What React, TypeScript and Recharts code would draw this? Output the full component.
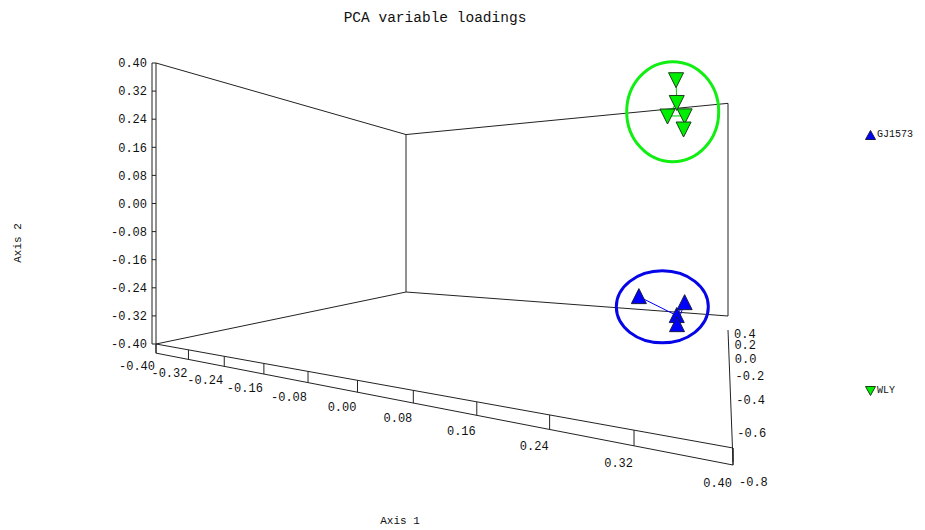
import React from "react";
import { ScatterChart, Scatter, XAxis, YAxis } from "recharts";

const CHART_W = 925;
const CHART_H = 530;

// tick values of the three axes
const axis1Ticks = [-0.4, -0.32, -0.24, -0.16, -0.08, 0, 0.08, 0.16, 0.24, 0.32, 0.4];
const axis2Ticks = [-0.4, -0.32, -0.24, -0.16, -0.08, 0, 0.08, 0.16, 0.24, 0.32, 0.4];
const axis3Ticks = [0.4, 0.2, 0, -0.2, -0.4, -0.6, -0.8];

// loadings of GJ1573 (axis 1, 2, 3)
const gjAxis1 = [0.294, 0.338, 0.346, 0.341];
const gjAxis2 = [-0.229, -0.274, -0.248, -0.284];
const gjAxis3 = [-0.44, -0.4, -0.36, -0.46];

// loadings of WLY
const wlyAxis1 = [0.339, 0.338, 0.33, 0.346, 0.347];
const wlyAxis2 = [0.275, 0.232, 0.189, 0.207, 0.164];
const wlyAxis3 = [-0.44, -0.4, -0.46, -0.36, -0.42];

const BLUE = "#0000ff";
const GREEN = "#00ee00";

// box extent, z runs front -> back
const X_RANGE = [-0.4, 0.4];
const Y_RANGE = [-0.4, 0.4];
const Z_RANGE = [-0.8, 0.4];

// camera: where the floor of the box lands on screen (front-left, front-right, back-right, back-left)
const FLOOR = [
  [156, 344],
  [733, 448],
  [728, 316],
  [406, 292],
];
const WALL = 281; // height of the box at the front-left edge
const RIB = 0.026; // thickness of the axis-1 plate

function makeHomography(q: number[][]) {
  const [[x0, y0], [x1, y1], [x2, y2], [x3, y3]] = q;
  const dx1 = x1 - x2, dx2 = x3 - x2, dx3 = x0 - x1 + x2 - x3;
  const dy1 = y1 - y2, dy2 = y3 - y2, dy3 = y0 - y1 + y2 - y3;
  const den = dx1 * dy2 - dx2 * dy1;
  const g = (dx3 * dy2 - dx2 * dy3) / den;
  const h = (dx1 * dy3 - dx3 * dy1) / den;
  return {
    a: x1 - x0 + g * x1,
    b: x3 - x0 + h * x3,
    c: x0,
    d: y1 - y0 + g * y1,
    e: y3 - y0 + h * y3,
    f: y0,
    g,
    h,
  };
}
const HM = makeHomography(FLOOR);

function project(a1: number, a2: number, a3: number) {
  const u = (a1 - X_RANGE[0]) / (X_RANGE[1] - X_RANGE[0]);
  const v = (a2 - Y_RANGE[0]) / (Y_RANGE[1] - Y_RANGE[0]);
  const s = (a3 - Z_RANGE[0]) / (Z_RANGE[1] - Z_RANGE[0]);
  const w = HM.g * u + HM.h * s + 1;
  return {
    px: (HM.a * u + HM.b * s + HM.c) / w,
    py: (HM.d * u + HM.e * s + HM.f) / w - (WALL * v) / w,
    w,
  };
}

const [x0, x1] = X_RANGE;
const [y0, y1] = Y_RANGE;
const [zf, zb] = Z_RANGE;

// box frame
const frame = [
  project(x0, y1, zf),
  project(x0, y1, zb),
  project(x1, y1, zb),
  project(x1, y0, zb),
  project(x0, y0, zb),
  project(x0, y0, zf),
];
const backLeft = [project(x0, y1, zb), project(x0, y0, zb)];
const frontLeft = [project(x0, y1, zf), project(x0, y0, zf)];
const frontLeftOuter = frontLeft.map((p) => ({ ...p, px: p.px - 4 }));
const ribbon = [
  project(x0, y0, zf),
  project(x1, y0, zf),
  project(x1, y0 - RIB, zf),
  project(x0, y0 - RIB, zf),
  project(x0, y0, zf),
];
const zLine = [project(x1, y0, zb), project(x1, y0, zf)].map((p) => ({ ...p, py: p.py + 14 }));

const axis1Marks = axis1Ticks.map((t) => {
  const top = project(t, y0, zf);
  const bottom = project(t, y0 - RIB, zf);
  return { ...top, len: bottom.py - top.py };
});
const axis2Marks = axis2Ticks.map((t) => project(x0, t, zf));

const axis1Labels = axis1Ticks.map((t) => {
  const p = project(t, y0, zf);
  return { px: p.px - 1, py: p.py + 7 + 15 / p.w, text: t.toFixed(2) };
});
const axis2Labels = axis2Ticks.map((t) => {
  const p = project(x0, t, zf);
  return { px: p.px - 9, py: p.py, text: t.toFixed(2) };
});
const axis3Labels = axis3Ticks.map((t) => {
  const p = project(x1, y0, t);
  return { px: p.px + 6, py: p.py + 6 + 15 / p.w, text: t.toFixed(1) };
});

const gjPoints = gjAxis1.map((a, i) => project(a, gjAxis2[i], gjAxis3[i]));
const wlyPoints = wlyAxis1.map((a, i) => project(a, wlyAxis2[i], wlyAxis3[i]));

const centroid = (pts: { px: number; py: number }[]) => [
  {
    px: pts.reduce((s, p) => s + p.px, 0) / pts.length,
    py: pts.reduce((s, p) => s + p.py, 0) / pts.length,
  },
];

const noShape = () => <g />;

const upTriangle = (props: any) => {
  const { cx, cy } = props;
  if (cx == null || cy == null) return <g />;
  return (
    <polygon
      points={`${cx},${cy - 8} ${cx - 7.5},${cy + 7} ${cx + 7.5},${cy + 7}`}
      fill={BLUE}
      stroke="#1a1a40"
      strokeWidth={1}
    />
  );
};

const downTriangle = (props: any) => {
  const { cx, cy } = props;
  if (cx == null || cy == null) return <g />;
  return (
    <polygon
      points={`${cx - 7.5},${cy - 7} ${cx + 7.5},${cy - 7} ${cx},${cy + 8}`}
      fill={GREEN}
      stroke="#1a401a"
      strokeWidth={1}
    />
  );
};

const ellipse = (color: string, dx: number, dy: number, rx: number, ry: number) => (props: any) => {
  const { cx, cy } = props;
  if (cx == null || cy == null) return <g />;
  return <ellipse cx={cx + dx} cy={cy + dy} rx={rx} ry={ry} fill="none" stroke={color} strokeWidth={3} />;
};

const label = (anchor: "start" | "end") => (props: any) => {
  const { cx, cy, payload } = props;
  if (cx == null || cy == null) return <g />;
  return (
    <text x={cx} y={cy} dy="0.35em" textAnchor={anchor} fontSize={12} fill="#111">
      {payload.text}
    </text>
  );
};

const xMark = (props: any) => {
  const { cx, cy, payload } = props;
  if (cx == null || cy == null) return <g />;
  return <line x1={cx} y1={cy} x2={cx} y2={cy + payload.len} stroke="#222" strokeWidth={1} />;
};

const yMark = (props: any) => {
  const { cx, cy } = props;
  if (cx == null || cy == null) return <g />;
  return <line x1={cx - 4} y1={cy} x2={cx} y2={cy} stroke="#222" strokeWidth={1} />;
};

const EDGE = { stroke: "#222", strokeWidth: 1 };

export default function App() {
  return (
    <div
      style={{
        position: "absolute",
        left: 0,
        top: 0,
        width: CHART_W,
        height: CHART_H,
        background: "#fff",
        fontFamily: "'Liberation Mono', monospace",
        color: "#111",
      }}
    >
      <ScatterChart width={CHART_W} height={CHART_H} margin={{ top: 0, right: 0, bottom: 0, left: 0 }}>
        <XAxis type="number" dataKey="px" domain={[0, CHART_W]} allowDataOverflow hide />
        <YAxis type="number" dataKey="py" domain={[0, CHART_H]} allowDataOverflow reversed hide />

        <Scatter data={frame} line={EDGE} shape={noShape} isAnimationActive={false} />
        <Scatter data={backLeft} line={EDGE} shape={noShape} isAnimationActive={false} />
        <Scatter data={frontLeft} line={EDGE} shape={noShape} isAnimationActive={false} />
        <Scatter data={frontLeftOuter} line={EDGE} shape={noShape} isAnimationActive={false} />
        <Scatter data={ribbon} line={EDGE} shape={noShape} isAnimationActive={false} />
        <Scatter data={zLine} line={EDGE} shape={noShape} isAnimationActive={false} />
        <Scatter data={axis1Marks} shape={xMark} isAnimationActive={false} />
        <Scatter data={axis2Marks} shape={yMark} isAnimationActive={false} />

        <Scatter data={centroid(wlyPoints)} shape={ellipse("#11ee11", -5, 3, 46, 50)} isAnimationActive={false} />
        <Scatter data={centroid(gjPoints)} shape={ellipse("#0505e8", -7, -3, 46, 36)} isAnimationActive={false} />

        <Scatter
          name="GJ1573"
          data={gjPoints}
          line={{ stroke: BLUE, strokeWidth: 1 }}
          shape={upTriangle}
          isAnimationActive={false}
        />
        <Scatter
          name="WLY"
          data={wlyPoints}
          line={{ stroke: "#00cc00", strokeWidth: 1 }}
          shape={downTriangle}
          isAnimationActive={false}
        />

        <Scatter data={axis1Labels} shape={label("end")} isAnimationActive={false} />
        <Scatter data={axis2Labels} shape={label("end")} isAnimationActive={false} />
        <Scatter data={axis3Labels} shape={label("start")} isAnimationActive={false} />
      </ScatterChart>

      <div
        style={{
          position: "absolute",
          left: 435,
          top: 10,
          transform: "translateX(-50%)",
          fontSize: 14.5,
          lineHeight: "17px",
          whiteSpace: "nowrap",
        }}
      >
        PCA variable loadings
      </div>
      <div
        style={{
          position: "absolute",
          left: 400,
          top: 514,
          transform: "translateX(-50%)",
          fontSize: 11,
          lineHeight: "14px",
          whiteSpace: "nowrap",
        }}
      >
        Axis 1
      </div>
      <div
        style={{
          position: "absolute",
          left: 18,
          top: 243,
          transform: "translate(-50%, -50%) rotate(-90deg)",
          fontSize: 11,
          lineHeight: "14px",
          whiteSpace: "nowrap",
        }}
      >
        Axis 2
      </div>

      <div style={{ position: "absolute", left: 865, top: 129, display: "flex", alignItems: "center", fontSize: 10 }}>
        <svg width={11} height={10}>
          <polygon points="5.5,0.5 0.5,9.5 10.5,9.5" fill={BLUE} stroke="#1a1a40" strokeWidth={1} />
        </svg>
        <span style={{ marginLeft: 1 }}>GJ1573</span>
      </div>
      <div style={{ position: "absolute", left: 865, top: 385, display: "flex", alignItems: "center", fontSize: 10 }}>
        <svg width={11} height={10}>
          <polygon points="0.5,0.5 10.5,0.5 5.5,9.5" fill={GREEN} stroke="#1a401a" strokeWidth={1} />
        </svg>
        <span style={{ marginLeft: 1 }}>WLY</span>
      </div>
    </div>
  );
}
